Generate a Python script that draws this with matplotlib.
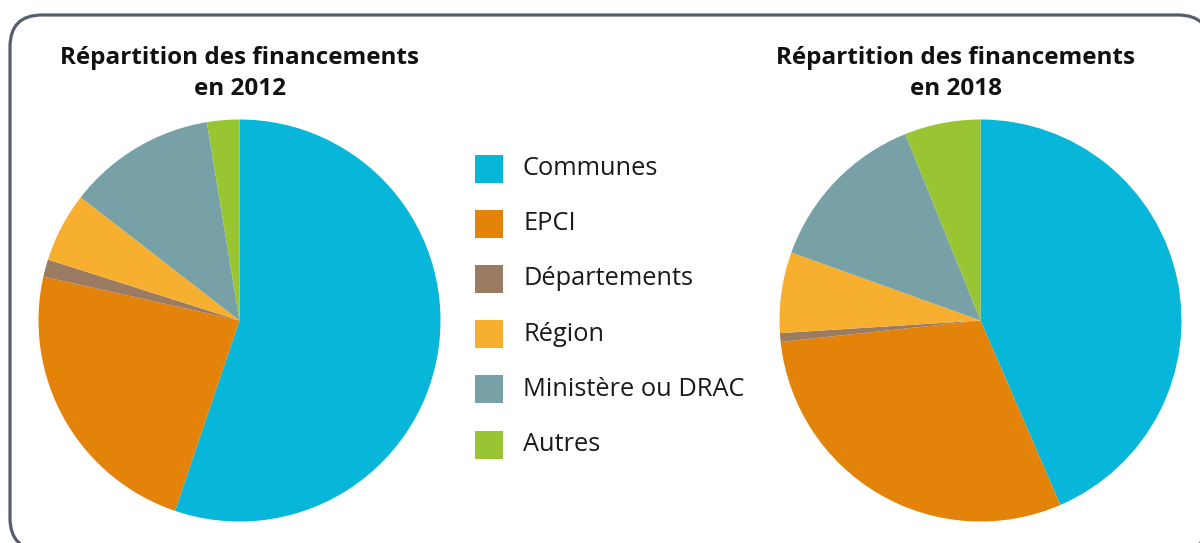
import matplotlib
matplotlib.use("Agg")
import matplotlib.pyplot as plt
from matplotlib.patches import FancyBboxPatch, Rectangle

categories = ["Communes", "EPCI", "Départements", "Région", "Ministère ou DRAC", "Autres"]
values_2012 = [55.2, 23.3, 1.4, 5.6, 11.9, 2.6]
values_2018 = [43.5, 29.8, 0.7, 6.5, 13.4, 6.1]
colors = ["#08B6DA", "#E3830A", "#9C7B63", "#F7AF30", "#77A1A6", "#9AC532"]
title_line1 = "Répartition des financements"
title_2012 = "en 2012"
title_2018 = "en 2018"

W, H = 1200, 543
DPI = 100
fig = plt.figure(figsize=(W / DPI, H / DPI), dpi=DPI)
fig.patch.set_facecolor("white")

FONT = ["Open Sans", "DejaVu Sans"]

# background axes in pixel coordinates for the rounded frame, titles and legend
bg = fig.add_axes([0, 0, 1, 1])
bg.set_xlim(0, W)
bg.set_ylim(H, 0)
bg.axis("off")
frame = FancyBboxPatch((10, 15), 1200, 535,
                       boxstyle="round,pad=0,rounding_size=32",
                       facecolor="white", edgecolor="#575d6c", linewidth=2.3)
bg.add_patch(frame)


def pie_axes(cx, cy, r):
    return fig.add_axes([(cx - r) / W, (H - cy - r) / H, 2 * r / W, 2 * r / H])


R = 201
ax1 = pie_axes(239.5, 320.5, R)
ax1.pie(values_2012, colors=colors, startangle=90, counterclock=False,
        radius=1, wedgeprops=dict(linewidth=0))
ax1.set_xlim(-1, 1)
ax1.set_ylim(-1, 1)
ax1.axis("off")

ax2 = pie_axes(980.5, 320.5, R)
ax2.pie(values_2018, colors=colors, startangle=90, counterclock=False,
        radius=1, wedgeprops=dict(linewidth=0))
ax2.set_xlim(-1, 1)
ax2.set_ylim(-1, 1)
ax2.axis("off")

# titles
for cx, year in [(240, title_2012), (956, title_2018)]:
    bg.text(cx, 58, title_line1, ha="center", va="center", fontsize=17.5,
            fontweight="bold", family=FONT, color="#111111")
    bg.text(cx, 89, year, ha="center", va="center", fontsize=17.5,
            fontweight="bold", family=FONT, color="#111111")

# legend (manual, in pixel coordinates)
y0, dy = 168.5, 55.2
for i, (cat, col) in enumerate(zip(categories, colors)):
    y = y0 + i * dy
    bg.add_patch(Rectangle((474.5, y - 14), 28, 28, facecolor=col, edgecolor="none"))
    bg.text(523, y, cat, ha="left", va="center", fontsize=18.3,
            family=FONT, color="#1a1a1a")

fig.savefig("out.png", dpi=DPI)
